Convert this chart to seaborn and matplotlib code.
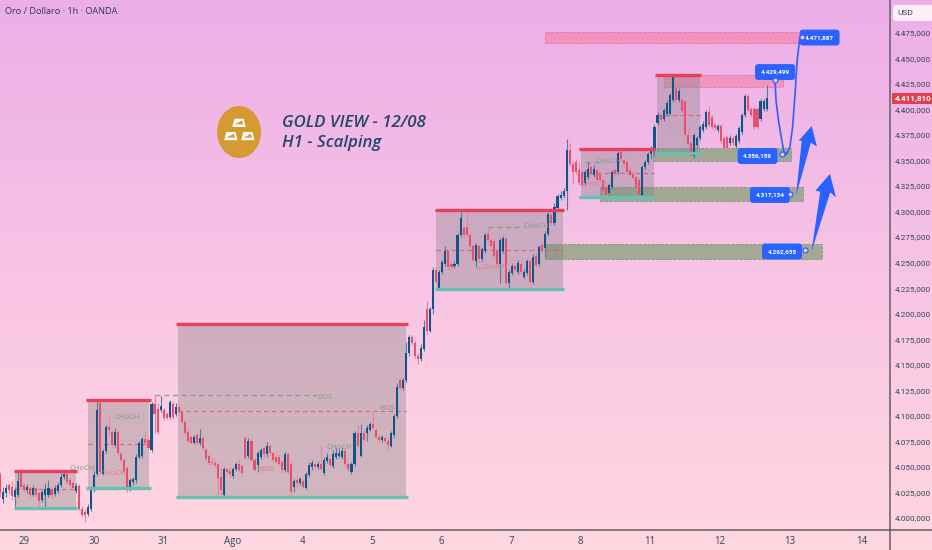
import numpy as np
import matplotlib
matplotlib.use("Agg")
import matplotlib.pyplot as plt
from matplotlib.colors import LinearSegmentedColormap
from matplotlib.lines import Line2D
from matplotlib.patches import Ellipse, FancyBboxPatch, Polygon, Rectangle
from matplotlib.transforms import IdentityTransform
import seaborn as sns

# Candles, one hour per bar
opens = [
    4043, 4018, 4024, 4032, 4030, 4020, 4022, 4044, 4032, 4027,
    4029, 4022, 4029, 4024, 4017, 4022, 4022, 4028, 4023, 4026,
    4032, 4040, 4043, 4037, 4034, 4026, 4031, 4009, 4006, 4004,
    4009, 4027, 4043, 4112, 4043, 4065, 4089, 4084, 4071, 4084,
    4062, 4057, 4049, 4029, 4035, 4037, 4060, 4061, 4077, 4076,
    4066, 4111, 4107, 4106, 4106, 4102, 4099, 4111, 4102, 4109,
    4104, 4094, 4084, 4079, 4073, 4081, 4073, 4078, 4066, 4061,
    4055, 4054, 4053, 4040, 4022, 4048, 4046, 4041, 4048, 4053,
    4051, 4078, 4061, 4075, 4057, 4052, 4060, 4068, 4062, 4070,
    4063, 4060, 4060, 4055, 4047, 4062, 4053, 4030, 4037, 4034,
    4036, 4029, 4042, 4050, 4053, 4050, 4053, 4044, 4056, 4058,
    4051, 4060, 4061, 4060, 4065, 4053, 4045, 4053, 4083, 4061,
    4083, 4083, 4086, 4092, 4086, 4079, 4076, 4078, 4075, 4070,
    4081, 4100, 4135, 4127, 4135, 4161, 4177, 4171, 4159, 4156,
    4165, 4205, 4183, 4205, 4243, 4225, 4241, 4249, 4261, 4249,
    4247, 4249, 4277, 4284, 4285, 4277, 4266, 4252, 4266, 4254,
    4261, 4278, 4272, 4271, 4262, 4249, 4261, 4273, 4230, 4240,
    4247, 4241, 4249, 4236, 4240, 4252, 4231, 4257, 4249, 4267,
    4264, 4278, 4297, 4289, 4304, 4313, 4315, 4320, 4360, 4347,
    4349, 4341, 4339, 4328, 4334, 4344, 4336, 4341, 4337, 4331,
    4324, 4318, 4324, 4341, 4339, 4358, 4351, 4349, 4341, 4337,
    4334, 4331, 4316, 4344, 4349, 4356, 4360, 4387, 4395, 4391,
    4396, 4396, 4409, 4421, 4409, 4409, 4408, 4375, 4367, 4355,
    4365, 4372, 4380, 4383, 4398, 4393, 4385, 4380, 4384, 4372,
    4373, 4367, 4372, 4364, 4369, 4378, 4395, 4413, 4401, 4401,
    4401, 4391, 4401, 4401,
]
closes = [
    4024, 4025, 4029, 4027, 4021, 4027, 4036, 4030, 4027, 4030,
    4022, 4029, 4022, 4016, 4025, 4028, 4029, 4022, 4029, 4032,
    4040, 4043, 4035, 4032, 4029, 4031, 4009, 4003, 4003, 4011,
    4029, 4042, 4106, 4045, 4065, 4089, 4086, 4071, 4084, 4063,
    4057, 4045, 4029, 4037, 4038, 4060, 4073, 4077, 4073, 4068,
    4111, 4102, 4084, 4110, 4098, 4098, 4113, 4099, 4109, 4104,
    4094, 4083, 4075, 4073, 4079, 4073, 4078, 4068, 4058, 4054,
    4054, 4052, 4039, 4027, 4048, 4045, 4043, 4048, 4053, 4047,
    4044, 4059, 4075, 4057, 4047, 4063, 4066, 4062, 4070, 4063,
    4057, 4055, 4053, 4047, 4062, 4045, 4025, 4036, 4034, 4038,
    4030, 4043, 4052, 4054, 4050, 4053, 4048, 4057, 4060, 4052,
    4062, 4063, 4063, 4065, 4053, 4048, 4053, 4083, 4070, 4083,
    4076, 4088, 4092, 4088, 4079, 4076, 4079, 4075, 4071, 4083,
    4100, 4128, 4127, 4135, 4161, 4177, 4171, 4159, 4156, 4166,
    4187, 4183, 4205, 4243, 4231, 4241, 4251, 4261, 4246, 4246,
    4249, 4277, 4294, 4277, 4277, 4266, 4253, 4267, 4254, 4263,
    4277, 4272, 4266, 4257, 4249, 4272, 4274, 4230, 4241, 4247,
    4243, 4250, 4241, 4241, 4252, 4231, 4256, 4248, 4265, 4261,
    4278, 4298, 4289, 4305, 4315, 4316, 4320, 4360, 4347, 4339,
    4339, 4328, 4326, 4339, 4342, 4337, 4342, 4331, 4331, 4320,
    4316, 4326, 4339, 4337, 4357, 4352, 4347, 4339, 4336, 4333,
    4323, 4316, 4344, 4349, 4356, 4362, 4383, 4395, 4390, 4400,
    4406, 4414, 4432, 4409, 4418, 4399, 4375, 4366, 4355, 4375,
    4372, 4383, 4386, 4398, 4385, 4383, 4382, 4384, 4369, 4362,
    4362, 4372, 4367, 4374, 4382, 4395, 4413, 4400, 4395, 4383,
    4383, 4408, 4408, 4411.8,
]
highs = [
    4045, 4030, 4033, 4034, 4036, 4030, 4046, 4046, 4034, 4033,
    4031, 4032, 4030, 4026, 4027, 4034, 4037, 4030, 4032, 4035,
    4044, 4047, 4045, 4039, 4036, 4034, 4033, 4012, 4009, 4013,
    4031, 4046, 4114, 4114, 4067, 4091, 4099, 4087, 4088, 4086,
    4064, 4059, 4051, 4039, 4040, 4062, 4075, 4079, 4085, 4078,
    4113, 4120, 4112, 4119, 4108, 4104, 4115, 4113, 4112, 4112,
    4106, 4096, 4089, 4081, 4081, 4083, 4087, 4080, 4068, 4063,
    4060, 4058, 4055, 4049, 4050, 4050, 4050, 4050, 4055, 4057,
    4053, 4080, 4078, 4078, 4059, 4065, 4068, 4070, 4074, 4072,
    4065, 4063, 4062, 4057, 4064, 4064, 4056, 4038, 4041, 4040,
    4038, 4045, 4055, 4057, 4055, 4056, 4070, 4060, 4063, 4060,
    4066, 4068, 4067, 4069, 4069, 4055, 4055, 4085, 4091, 4092,
    4086, 4091, 4094, 4106, 4088, 4082, 4081, 4080, 4077, 4085,
    4102, 4132, 4137, 4137, 4172, 4179, 4179, 4173, 4161, 4170,
    4194, 4212, 4207, 4246, 4246, 4243, 4253, 4266, 4263, 4251,
    4252, 4279, 4300, 4286, 4300, 4279, 4268, 4269, 4268, 4265,
    4279, 4284, 4274, 4273, 4264, 4274, 4276, 4275, 4243, 4249,
    4249, 4253, 4251, 4244, 4254, 4254, 4258, 4259, 4267, 4270,
    4281, 4300, 4299, 4308, 4317, 4320, 4323, 4371, 4367, 4349,
    4352, 4349, 4341, 4341, 4349, 4346, 4346, 4343, 4339, 4333,
    4326, 4328, 4341, 4343, 4359, 4360, 4353, 4351, 4343, 4339,
    4336, 4333, 4346, 4351, 4358, 4364, 4386, 4398, 4397, 4402,
    4409, 4416, 4433, 4432, 4421, 4411, 4410, 4382, 4369, 4377,
    4374, 4385, 4389, 4400, 4404, 4395, 4387, 4386, 4386, 4374,
    4375, 4375, 4374, 4376, 4384, 4397, 4415, 4415, 4403, 4403,
    4403, 4410, 4410, 4424,
]
lows = [
    4020, 4014, 4020, 4024, 4017, 4011, 4020, 4028, 4025, 4024,
    4020, 4021, 4020, 4012, 4015, 4011, 4020, 4019, 4021, 4024,
    4030, 4038, 4033, 4030, 4027, 4024, 4008, 4002, 3996, 4002,
    4007, 4025, 4041, 4043, 4042, 4063, 4082, 4069, 4069, 4061,
    4055, 4043, 4025, 4026, 4032, 4034, 4058, 4059, 4071, 4066,
    4064, 4083, 4082, 4104, 4096, 4097, 4097, 4097, 4100, 4102,
    4092, 4081, 4073, 4072, 4072, 4071, 4071, 4066, 4056, 4052,
    4052, 4050, 4022, 4022, 4020, 4043, 4040, 4039, 4046, 4045,
    4042, 4057, 4059, 4056, 4046, 4045, 4058, 4060, 4060, 4061,
    4055, 4053, 4051, 4045, 4045, 4043, 4020, 4025, 4030, 4032,
    4029, 4028, 4040, 4047, 4048, 4048, 4047, 4042, 4054, 4050,
    4049, 4058, 4059, 4058, 4051, 4046, 4043, 4051, 4068, 4060,
    4074, 4075, 4085, 4086, 4077, 4074, 4074, 4073, 4065, 4069,
    4079, 4098, 4125, 4125, 4133, 4159, 4169, 4157, 4151, 4154,
    4163, 4180, 4182, 4200, 4229, 4223, 4239, 4247, 4244, 4244,
    4245, 4247, 4275, 4275, 4275, 4264, 4251, 4246, 4250, 4252,
    4259, 4270, 4264, 4255, 4247, 4230, 4259, 4228, 4224, 4238,
    4241, 4239, 4239, 4234, 4238, 4229, 4229, 4246, 4247, 4259,
    4256, 4276, 4287, 4287, 4302, 4311, 4313, 4302, 4345, 4328,
    4337, 4326, 4324, 4326, 4332, 4335, 4334, 4329, 4329, 4318,
    4314, 4316, 4322, 4335, 4337, 4350, 4345, 4337, 4334, 4331,
    4321, 4314, 4314, 4342, 4347, 4352, 4355, 4385, 4388, 4389,
    4394, 4395, 4407, 4407, 4407, 4397, 4373, 4364, 4353, 4353,
    4363, 4370, 4378, 4381, 4383, 4381, 4380, 4378, 4367, 4360,
    4360, 4365, 4365, 4362, 4367, 4376, 4393, 4398, 4393, 4381,
    4381, 4389, 4399, 4399,
]

# Axis labels
price_ticks = list(range(4000, 4476, 25))
date_ticks = [7.9, 31, 53.8, 76.9, 99.7, 122.8, 145.5, 168.6, 191.4, 214.5, 237.6, 260.7, 284.5]
date_labels = ["29", "30", "31", "Ago", "4", "5", "6", "7", "8", "11", "12", "13", "14"]

# Range boxes
box_left = [5, 29, 58.7, 143.9, 191.7, 216.8]
box_right = [25, 49.2, 134, 185.8, 215.8, 231]
box_top = [4046, 4115, 4189.5, 4301.6, 4361, 4434]
box_bottom = [4010, 4029, 4020, 4224, 4314, 4357]
box_mid = [4028, 4072, 4105, 4262, 4337.5, 4395]

# Demand and supply zones
green_left = [180, 198, 215.5]
green_right = [271.2, 265, 261]
green_top = [4268, 4324, 4362]
green_bottom = [4254, 4310, 4350]
red_left = [180, 219]
red_right = [264, 258.4]
red_top = [4476, 4434]
red_bottom = [4465, 4422.5]

# Structure labels
struct_text = ["CHoCH", "CHoCH", "CHoCH", "BOS", "BOS", "BOS", "CHoCH", "CHoCH", "CHoCH", "CHoCH", "CHoCH"]
struct_x = [27.1, 41.9, 37.3, 88.1, 107.3, 127.7, 111.9, 176.9, 163.4, 200.7, 196]
struct_y = [4047.8, 4098.7, 4043, 4046.8, 4118.3, 4106.6, 4068.4, 4285, 4245.7, 4349.6, 4327]
struct_up = [True, True, False, False, True, True, True, True, False, True, False]
dash_left = [51.2, 161, 157, 193]
dash_right = [104.6, 173, 160, 198.5]
dash_y = [4120, 4285, 4245, 4349]
dash_up = [True, True, False, True]

# Price tags
tag_text = ["4.471,887", "4.429,499", "4.356,159", "4.317,134", "4.262,635"]
tag_x = [270.5, 255.8, 250, 254.1, 258.1]
tag_y = [4470.6, 4436.8, 4354.5, 4316.3, 4261]
dot_x = [264.7, 255.8, 258.1, 260.7, 265.7]
dot_y = [4471, 4429, 4356, 4317, 4262.6]

# Projected path and arrows
path_x = [255.8, 256.1, 256.9, 258, 258.7, 259.6, 260.7, 261.6, 262.4, 263.1, 264]
path_y = [4429, 4409.4, 4389.8, 4370.2, 4358.8, 4356.1, 4363.6, 4383.3, 4415.9, 4448.6, 4471.5]
arrow1_x = [262.7, 264.6, 263.6, 267.9, 269.6, 267.6]
arrow1_y = [4315.6, 4369.5, 4369.5, 4383.9, 4363.7, 4367.6]
arrow2_x = [267.8, 270.7, 269.1, 273.9, 275.9, 274]
arrow2_y = [4260.7, 4319.6, 4320.5, 4336.9, 4314, 4318.9]

UP = "#0f5587"
DOWN = "#e6506c"
BLUE = "#2962ff"
GREEN_TXT = "#7f9f85"
RED_TXT = "#e47a90"
AXIS_TXT = "#33445a"
SMALL = ["Roboto", "DejaVu Sans"]

sns.set_theme(style="white")
plt.rcParams["font.family"] = ["Open Sans", "DejaVu Sans"]

fig = plt.figure(figsize=(9.32, 5.5), dpi=100)

# Pink background running top to bottom
bg = fig.add_axes([0, 0, 1, 1], zorder=0)
cmap = LinearSegmentedColormap.from_list("bg", ["#ecaee8", "#f3bde6", "#fbcbe3", "#ffd7e0"])
bg.imshow(np.linspace(0, 1, 256).reshape(-1, 1), aspect="auto", cmap=cmap)
bg.axis("off")

ax = fig.add_axes([0, 20 / 550, 890 / 932, 530 / 550], zorder=1)
ax.patch.set_alpha(0)
ax.set_xlim(0, 890 / 3.03)
ax.set_ylim(4507.4 - 530 * 0.98, 4507.4)

# Zones sit below the candles
for l, r, t, b in zip(green_left, green_right, green_top, green_bottom):
    ax.add_patch(Rectangle((l, b), r - l, t - b, facecolor="#8fa37f", alpha=0.8,
                           edgecolor="#6d8a80", ls="--", lw=0.6, zorder=1))
for l, r, t, b in zip(red_left, red_right, red_top, red_bottom):
    ax.add_patch(Rectangle((l, b), r - l, t - b, facecolor="#f27ba0", alpha=0.55,
                           edgecolor="#e6506c", ls="--", lw=0.6, zorder=1))
for l, r, t, b, m in zip(box_left, box_right, box_top, box_bottom, box_mid):
    ax.add_patch(Rectangle((l, b), r - l, t - b, facecolor="#808080", alpha=0.35, lw=0, zorder=1))
    ax.hlines(m, l, r, color=DOWN, lw=0.8, ls=(0, (4, 3)), alpha=0.85, zorder=2)
    ax.hlines(t, l - 0.5, r + 0.5, color="#e6405a", lw=2.4, zorder=5)
    ax.hlines(b, l - 0.5, r + 0.5, color="#66c0b0", lw=2.4, zorder=5)

for l, r, y, up in zip(dash_left, dash_right, dash_y, dash_up):
    ax.hlines(y, l, r, color=GREEN_TXT if up else RED_TXT, lw=0.9, ls=(0, (4, 3)), zorder=2)

# Candles
xs = np.arange(len(closes))
o, c = np.array(opens), np.array(closes)
rising = c >= o
ax.vlines(xs[rising], np.array(lows)[rising], np.array(highs)[rising], color="#4c7f9c", lw=0.8, zorder=3)
ax.vlines(xs[~rising], np.array(lows)[~rising], np.array(highs)[~rising], color="#ef8298", lw=0.8, zorder=3)
ax.bar(xs[rising], (c - o)[rising], bottom=o[rising], width=0.68, color=UP, lw=0, zorder=4)
ax.bar(xs[~rising], (c - o)[~rising], bottom=o[~rising], width=0.68, color=DOWN, lw=0, zorder=4)

for t, x, y, up in zip(struct_text, struct_x, struct_y, struct_up):
    ax.text(x, y, t, fontsize=5.6, ha="center", va="center", color=GREEN_TXT if up else RED_TXT, zorder=6)

# Projection
ax.add_patch(Polygon(np.column_stack([arrow1_x, arrow1_y]), color=BLUE, lw=0, zorder=7))
ax.add_patch(Polygon(np.column_stack([arrow2_x, arrow2_y]), color=BLUE, lw=0, zorder=7))
sns.lineplot(x=path_x, y=path_y, sort=False, estimator=None, color=BLUE, lw=1.2, ax=ax, zorder=7)
for t, x, y in zip(tag_text, tag_x, tag_y):
    ax.text(x, y, t, fontsize=4.6, fontweight="bold", family=SMALL, color="white", ha="center", va="center",
            zorder=9, bbox=dict(boxstyle="round,pad=0.85,rounding_size=0.5", fc=BLUE, ec="none"))
sns.scatterplot(x=dot_x, y=dot_y, s=13, color="#f3c4ea", edgecolor=BLUE, linewidth=0.9, ax=ax, zorder=10)

# Gold logo and title
ax.add_patch(Ellipse((78.9, 4378), 14.5, 51, color="#d69a32", lw=0, zorder=6))
for cx, cy in [(78.9, 4387), (76.2, 4374), (81.8, 4374)]:
    ax.add_patch(Polygon([(cx - 2.2, cy - 4), (cx + 2.2, cy - 4), (cx + 1.5, cy + 4), (cx - 1.5, cy + 4)],
                         color="white", lw=0, zorder=7))
    ax.add_patch(Polygon([(cx - 1.4, cy - 1.5), (cx + 1.4, cy - 1.5), (cx + 1.0, cy + 2.5)],
                         color="#d69a32", lw=0, zorder=8))
ax.text(93, 4386.5, "GOLD VIEW - 12/08", fontsize=12.2, style="italic", fontweight="semibold",
        color="#24466a", va="center", zorder=6)
ax.text(93, 4367, "H1 - Scalping", fontsize=12.2, style="italic", fontweight="semibold",
        color="#24466a", va="center", zorder=6)

ax.text(5 / 890, 1 - 11 / 530, "Oro / Dollaro · 1h · OANDA", transform=ax.transAxes, fontsize=6.6,
        color="#2a3a52", va="center")

# Axes in the TradingView layout
ax.yaxis.tick_right()
ax.set_yticks(price_ticks)
ax.set_yticklabels([f"{p // 1000}.{p % 1000:03d},000" for p in price_ticks], fontsize=5.9, color=AXIS_TXT, family=SMALL)
ax.set_xticks(date_ticks)
ax.set_xticklabels(date_labels, fontsize=7, color=AXIS_TXT)
ax.tick_params(axis="x", length=0, pad=4.5)
ax.tick_params(axis="y", length=0, pad=3.5)
for side in ["top", "left", "bottom", "right"]:
    ax.spines[side].set_visible(False)

# The two border lines run through to the picture edges
fig.add_artist(Line2D([890 / 932, 890 / 932], [0, 1], color="#5f5f66", lw=1.1, zorder=5))
fig.add_artist(Line2D([0, 1], [20 / 550, 20 / 550], color="#5f5f66", lw=1.1, zorder=5))

# Last price tag
ax.add_patch(Rectangle((1.002, 4405.5), 42 / 890, 10.8, transform=ax.get_yaxis_transform(), fc="#e0404f",
                       lw=0, clip_on=False, zorder=12))
ax.text(1.0055, 4411, "4.411,810", transform=ax.get_yaxis_transform(), fontsize=5.9, fontweight="bold",
        family=SMALL, color="white", va="center", ha="left", clip_on=False, zorder=13)

# Currency button
fig.add_artist(FancyBboxPatch((893, 529), 45, 16, boxstyle="round,pad=0,rounding_size=3",
                              transform=IdentityTransform(), fc="#fdeef6", ec="none", zorder=0.5))
ax.text(897 / 890, 1 - 13 / 530, "USD", transform=ax.transAxes, fontsize=6, color=AXIS_TXT, va="center",
        ha="left", clip_on=False, family=SMALL, zorder=13)

fig.savefig("out.png", dpi=100)
